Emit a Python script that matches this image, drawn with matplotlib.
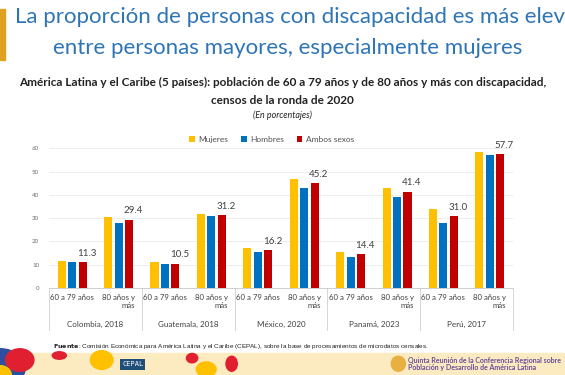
import numpy as np
import matplotlib
matplotlib.use("Agg")
import matplotlib.pyplot as plt
from matplotlib.patches import Rectangle, Ellipse

# data (percent)
paises = ["Colombia, 2018", "Guatemala, 2018", "México, 2020", "Panamá, 2023", "Perú, 2017"]
edades = ["60 a 79 años", "80 años y\nmás"]
mujeres = [11.4, 30.3, 11.0, 31.6, 17.0, 47.0, 15.6, 43.1, 33.8, 58.4]
hombres = [11.0, 28.0, 10.1, 31.0, 15.4, 42.9, 13.3, 39.1, 28.0, 57.1]
ambos = [11.3, 29.4, 10.5, 31.2, 16.2, 45.2, 14.4, 41.4, 31.0, 57.7]
series = ["Mujeres", "Hombres", "Ambos sexos"]
colores = ["#FFC000", "#0070C0", "#C00000"]

plt.rcParams['font.family'] = ['Lato', 'DejaVu Sans']

fig = plt.figure(figsize=(5.65, 3.75), dpi=100)
fig.patch.set_facecolor("white")

# slide title (the slide itself cuts the first line at the right edge)
fig.text(0.027, 0.955, "La proporción de personas con discapacidad es más elevada",
         fontsize=16.0, color="#2E75B6", ha="left", va="center")
fig.text(0.51, 0.872, "entre personas mayores, especialmente mujeres",
         fontsize=16.0, color="#2E75B6", ha="center", va="center")
fig.patches.append(Rectangle((0, 0.84), 0.009, 0.135, transform=fig.transFigure,
                             color="#E0A020", zorder=1))

# chart titles
fig.text(0.5, 0.779, "América Latina y el Caribe (5 países): población de 60 a 79 años y de 80 años y más con discapacidad,",
         fontsize=8.5, fontweight="bold", color="#222222", ha="center", va="center")
fig.text(0.5, 0.732, "censos de la ronda de 2020",
         fontsize=8.5, fontweight="bold", color="#222222", ha="center", va="center")
fig.text(0.5, 0.694, "(En porcentajes)", fontsize=6.4, style="italic",
         color="#222222", ha="center", va="center")

ax = fig.add_axes([0.0867, 0.232, 0.8213, 0.3725])
x = np.arange(len(mujeres))
w = 0.175
step = 0.225
for i, (vals, c, lab) in enumerate(zip([mujeres, hombres, ambos], colores, series)):
    ax.bar(x + (i - 1) * step, vals, width=w, color=c, label=lab, zorder=3)

for xi, v in zip(x, ambos):
    ax.annotate(f"{v:.1f}", (xi + step, v), xytext=(3, 3), textcoords="offset points",
                ha="center", va="bottom", fontsize=7, color="#404040")

ax.set_xlim(-0.5, len(x) - 0.5)
ax.set_ylim(0, 60)
ax.set_yticks(np.arange(0, 61, 10))
ax.tick_params(axis="y", labelsize=4.5, labelcolor="#707070", length=0, pad=7)
ax.grid(axis="y", color="#E6E6E6", linewidth=0.5, zorder=0)
for s in ["left", "right", "top"]:
    ax.spines[s].set_visible(False)
ax.spines["bottom"].set_color("#C8C8C8")
ax.spines["bottom"].set_linewidth(0.6)

ax.set_xticks(x)
ax.set_xticklabels(edades * len(paises), fontsize=5.6, color="#404040", multialignment="right")
ax.tick_params(axis="x", length=0, pad=4)

for k, p in enumerate(paises):
    ax.annotate(p, (2 * k + 0.5, 0), xycoords=("data", "axes fraction"),
                xytext=(0, -26), textcoords="offset points",
                ha="center", va="center", fontsize=5.8, color="#404040")
for k in range(len(paises) + 1):
    ax.plot([2 * k - 0.5, 2 * k - 0.5], [0, -0.30], transform=ax.get_xaxis_transform(),
            color="#D0D0D0", linewidth=0.6, clip_on=False)

ax.legend(loc="lower center", bbox_to_anchor=(0.48, 1.0), ncol=3, frameon=False,
          fontsize=6, handlelength=0.7, handleheight=0.7, columnspacing=1.5,
          handletextpad=0.4, labelcolor="#505050", borderaxespad=0.2)

# source note
fig.text(0.094, 0.077, r"$\bf{Fuente}$: Comisión Económica para América Latina y el Caribe (CEPAL), sobre la base de procesamientos de microdatos censales.",
         fontsize=4.6, family="Liberation Sans", color="#222222", ha="left", va="center")

# footer band
fig.patches.append(Rectangle((0, 0), 1, 0.058, transform=fig.transFigure,
                             color="#FCEBC0", zorder=0))
fig.patches.append(Ellipse((0.0, 0.02), 0.09, 0.1, transform=fig.transFigure,
                           color="#2E4FA0", zorder=1))
fig.patches.append(Ellipse((0.035, 0.04), 0.05, 0.06, transform=fig.transFigure,
                           color="#E02030", zorder=1))
fig.patches.append(Ellipse((0.0, 0.0), 0.04, 0.05, transform=fig.transFigure,
                           color="#FFC000", zorder=2))
fig.patches.append(Ellipse((0.105, 0.052), 0.025, 0.02, transform=fig.transFigure,
                           color="#E02030", zorder=1))
fig.patches.append(Ellipse((0.18, 0.04), 0.04, 0.05, transform=fig.transFigure,
                           color="#FFC000", zorder=1))
fig.patches.append(Ellipse((0.34, 0.045), 0.02, 0.025, transform=fig.transFigure,
                           color="#E02030", zorder=1))
fig.patches.append(Ellipse((0.365, 0.015), 0.035, 0.04, transform=fig.transFigure,
                           color="#FFC000", zorder=1))
fig.patches.append(Ellipse((0.41, 0.03), 0.02, 0.04, transform=fig.transFigure,
                           color="#E02030", zorder=1))
fig.text(0.235, 0.028, "CEPAL", fontsize=5, color="white", ha="center", va="center",
         family="DejaVu Sans Mono",
         bbox=dict(boxstyle="square,pad=0.3", fc="#1F4E79", ec="none"))
fig.patches.append(Ellipse((0.705, 0.03), 0.025, 0.04, transform=fig.transFigure,
                           color="#E8B040", zorder=1))
fig.text(0.723, 0.03, "Quinta Reunión de la Conferencia Regional sobre\nPoblación y Desarrollo de América Latina",
         fontsize=5, fontweight="bold", color="#6A4C9C", ha="left", va="center",
         linespacing=1.05)

fig.savefig("out.png", dpi=100)
